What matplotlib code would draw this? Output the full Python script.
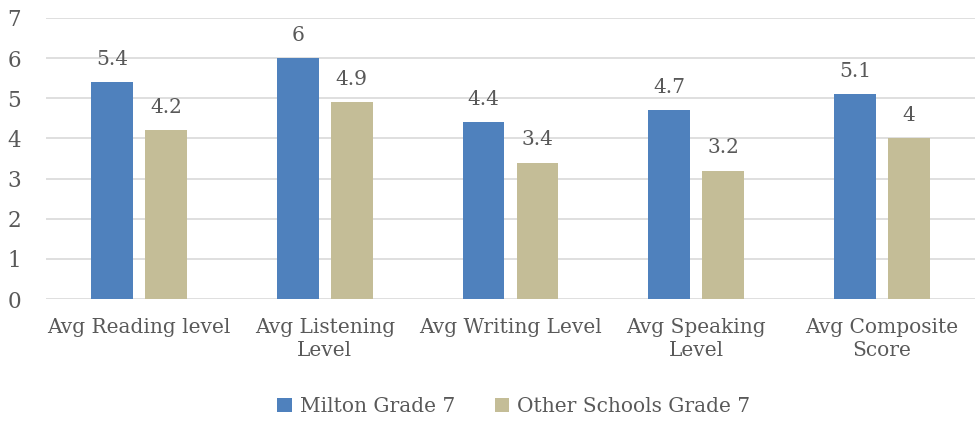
import matplotlib.pyplot as plt
import numpy as np

categories = ['Avg Reading level', 'Avg Listening\nLevel', 'Avg Writing Level',
              'Avg Speaking\nLevel', 'Avg Composite\nScore']
milton = [5.4, 6, 4.4, 4.7, 5.1]
others = [4.2, 4.9, 3.4, 3.2, 4]
series_names = ['Milton Grade 7', 'Other Schools Grade 7']

plt.rcParams['font.family'] = ['DejaVu Serif']
text_color = '#595959'
fs = 14.5

fig = plt.figure(figsize=(9.79, 4.24), dpi=100)
ax = fig.add_axes([46 / 979, 1 - 299 / 424, 929 / 979, 281 / 424])

x = np.arange(len(categories))
w = 0.225
gap = 0.065
b1 = ax.bar(x - (w + gap) / 2, milton, w, color='#4F81BD', label=series_names[0], zorder=3)
b2 = ax.bar(x + (w + gap) / 2, others, w, color='#C4BD97', label=series_names[1], zorder=3)

for bars, vals in ((b1, milton), (b2, others)):
    for bar, v in zip(bars, vals):
        ax.text(bar.get_x() + bar.get_width() / 2, v + 0.33, f'{v:g}',
                ha='center', va='bottom', fontsize=fs, color=text_color)

ax.set_xlim(-0.5, len(categories) - 0.5)
ax.set_ylim(0, 7)
ax.set_yticks(range(0, 8))
ax.yaxis.grid(True, color='#D9D9D9', linewidth=1.2, zorder=0)
ax.set_axisbelow(True)
for s in ax.spines.values():
    s.set_visible(False)
ax.tick_params(axis='both', length=0, labelsize=fs, labelcolor=text_color)
ax.tick_params(axis='y', pad=23, labelsize=15.5)
for lbl in ax.get_yticklabels():
    lbl.set_horizontalalignment('center')
ax.tick_params(axis='x', pad=14)
ax.set_xticks(x)
ax.set_xticklabels(categories, linespacing=1.25)

fig.legend(loc='lower center', bbox_to_anchor=(0.525, -0.025), ncol=2, frameon=False,
           fontsize=fs, labelcolor=text_color, handlelength=0.7, handleheight=0.7,
           handletextpad=0.4, columnspacing=2.0)

fig.savefig('out.png', dpi=100)
